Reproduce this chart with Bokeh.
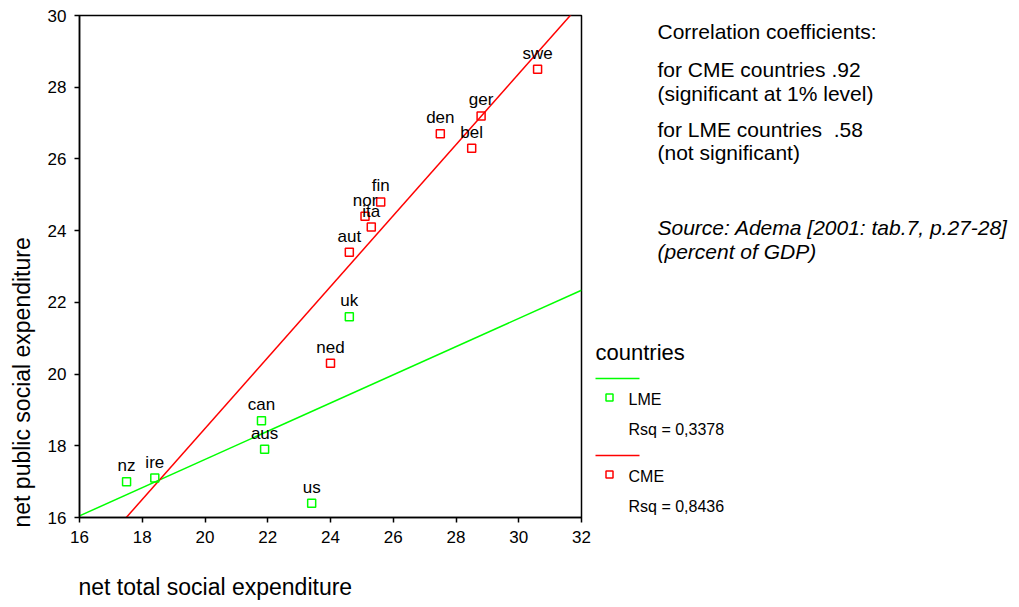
import numpy as np
from bokeh.plotting import figure
from bokeh.models import Range1d, FixedTicker, ColumnDataSource, Title, LinearAxis
from bokeh.layouts import row
from bokeh.embed import file_html
from bokeh.resources import INLINE
from bokeh.core.properties import value

# ---------------- data ----------------
lme_names = ["nz", "ire", "can", "aus", "us", "uk"]
lme_total = [17.5, 18.4, 21.8, 21.9, 23.4, 24.6]
lme_public = [17.0, 17.1, 18.7, 17.9, 16.4, 21.6]

cme_names = ["swe", "ger", "den", "bel", "fin", "nor", "ita", "aut", "ned"]
cme_total = [30.6, 28.8, 27.5, 28.5, 25.6, 25.1, 25.3, 24.6, 24.0]
cme_public = [28.5, 27.2, 26.7, 26.3, 24.8, 24.4, 24.1, 23.4, 20.3]

x_ticks = [16, 18, 20, 22, 24, 26, 28, 30, 32]
y_ticks = [16, 18, 20, 22, 24, 26, 28, 30]

x_title = "net total social expenditure"
y_title = "net public social expenditure"

note_lines = ["Correlation coefficients:",
              "for CME countries .92",
              "(significant at 1% level)",
              "for LME countries\u00a0 .58",
              "(not significant)"]
source_lines = ["Source: Adema [2001: tab.7, p.27-28]",
                "(percent of GDP)"]
legend_title = "countries"
legend_labels = ["LME", "CME"]
legend_rsq = ["Rsq = 0,3378", "Rsq = 0,8436"]

FONT = "Liberation Sans"
GREEN = "#00ff00"
RED = "#ff0000"

# page geometry (page margin is 0)
H = 607
LEFT, TOP, FW, FH = 79, 15, 502, 502
MAIN_W = LEFT + FW + 12
SIDE_W = 1019 - MAIN_W
DY = -7  # baseline correction for text placement

# ---------------- main plot ----------------
p = figure(width=MAIN_W, height=H,
           x_range=Range1d(x_ticks[0], x_ticks[-1]),
           y_range=Range1d(y_ticks[0], y_ticks[-1]),
           output_backend="svg", toolbar_location=None,
           min_border_left=LEFT, min_border_right=MAIN_W - LEFT - FW,
           min_border_top=TOP, min_border_bottom=H - TOP - FH)
p.grid.visible = False
p.outline_line_color = "black"
p.outline_line_width = 1.5

p.xaxis.ticker = FixedTicker(ticks=x_ticks)
p.yaxis.ticker = FixedTicker(ticks=y_ticks)
for ax in (p.xaxis[0], p.yaxis[0]):
    ax.major_tick_out = 5
    ax.major_tick_in = 0
    ax.minor_tick_out = 0
    ax.minor_tick_in = 0
    ax.axis_line_width = 1.5
    ax.axis_line_color = "black"
    ax.major_tick_line_width = 1.5
    ax.major_tick_line_color = "black"
    ax.major_label_text_font = FONT
    ax.major_label_text_font_size = "17px"
    ax.major_label_text_color = "black"
    ax.major_label_standoff = 8

# blank spacer band below the x axis (one invisible tick, empty label)
spacer = LinearAxis(ticker=FixedTicker(ticks=[x_ticks[0]]),
                    axis_line_color=None,
                    major_tick_line_color=None, minor_tick_line_color=None,
                    major_tick_out=26, major_tick_in=0,
                    minor_tick_out=0, minor_tick_in=0,
                    major_label_standoff=0,
                    major_label_overrides={x_ticks[0]: ""})
p.add_layout(spacer, "below")

# axis titles
p.add_layout(Title(text=x_title, align="left", offset=-1, standoff=0,
                   vertical_align="bottom",
                   text_font=FONT, text_font_size="23px",
                   text_font_style="normal", text_color="black"), "below")
p.add_layout(Title(text=y_title, align="left", offset=-10, standoff=15,
                   vertical_align="top",
                   text_font=FONT, text_font_size="23px",
                   text_font_style="normal", text_color="black"), "left")

# regression lines across the full x range
x_line = np.array([x_ticks[0], x_ticks[-1]], dtype=float)
for xs, ys, col in ((lme_total, lme_public, GREEN), (cme_total, cme_public, RED)):
    k, b = np.polyfit(xs, ys, 1)
    p.line(x_line, k * x_line + b, line_color=col, line_width=1.5)

for names, xs, ys, col in ((lme_names, lme_total, lme_public, GREEN),
                           (cme_names, cme_total, cme_public, RED)):
    src = ColumnDataSource(dict(x=xs, y=ys, name=names))
    p.scatter("x", "y", source=src, marker="square", size=8,
              fill_color=None, line_color=col, line_width=1.5)
    p.text("x", "y", text="name", source=src, y_offset=-16,
           text_align="center", text_baseline="alphabetic",
           text_font=value(FONT), text_font_size="17px", text_color="black")

# ---------------- side panel (notes + legend) ----------------
side = figure(width=SIDE_W, height=H,
              x_range=Range1d(MAIN_W, MAIN_W + SIDE_W),
              y_range=Range1d(TOP + FH, TOP),
              output_backend="svg", toolbar_location=None,
              x_axis_type=None, y_axis_type=None,
              min_border_left=0, min_border_right=0,
              min_border_top=TOP, min_border_bottom=H - TOP - FH)
side.outline_line_color = None
side.grid.visible = False

side.text(x=[657] * 5, y=[38 + DY, 76 + DY, 100 + DY, 136 + DY, 159 + DY],
          text=note_lines,
          text_align="left", text_baseline="alphabetic",
          text_font=value(FONT), text_font_size="21px", text_color="black")
side.text(x=[657] * 2, y=[234 + DY, 258 + DY], text=source_lines,
          text_align="left", text_baseline="alphabetic",
          text_font=value(FONT), text_font_size="21px",
          text_font_style="italic", text_color="black")

side.text(x=[595], y=[359 + DY], text=[legend_title],
          text_align="left", text_baseline="alphabetic",
          text_font=value(FONT), text_font_size="22px", text_color="black")
for i, col in enumerate((GREEN, RED)):
    base = 378 + i * 77
    side.line([595, 639], [base, base], line_color=col, line_width=1.5)
    side.scatter([609], [base + 19], marker="square", size=7,
                 fill_color=None, line_color=col, line_width=1.5)
    side.text(x=[628, 628], y=[base + 28 + DY, base + 58 + DY],
              text=[legend_labels[i], legend_rsq[i]],
              text_align="left", text_baseline="alphabetic",
              text_font=value(FONT), text_font_size="16px", text_color="black")

layout = row(p, side)
open("out.html", "w").write(file_html(layout, INLINE))
